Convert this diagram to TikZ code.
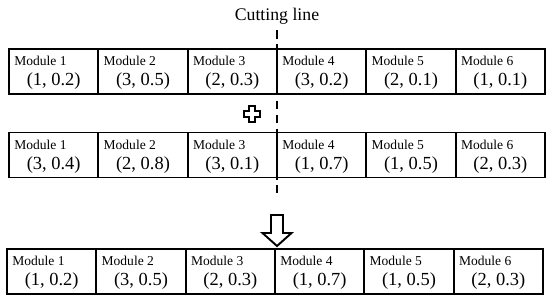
\documentclass[tikz,border=0pt]{standalone}
\usepackage{fontspec}
\setmainfont{Liberation Serif}
\usetikzlibrary{arrows}

\tikzset{
  cell/.style={draw, line width=1.1pt, minimum width=1.787cm, minimum height=0.9cm, inner sep=0pt},
  mod/.style={anchor=north west, inner xsep=3.4pt, inner ysep=4.6pt, font=\fontsize{7.7}{9}\selectfont},
  val/.style={yshift=-0.2cm, font=\fontsize{10.5}{12}\selectfont},
  cutline/.style={dashed, dash pattern=on 5pt off 3pt, line width=1.1pt},
  bigsign/.style={draw, line width=1.1pt, fill=white}
}

\begin{document}
\begin{tikzpicture}[scale=1]
\useasboundingbox (0,0) rectangle (11,-6.08);

% parent 1
\node[cell] (A1) at (1.074,-1.43) {};
\node[cell] (A2) at (2.860,-1.43) {};
\node[cell] (A3) at (4.647,-1.43) {};
\node[cell] (A4) at (6.434,-1.43) {};
\node[cell] (A5) at (8.220,-1.43) {};
\node[cell] (A6) at (10.007,-1.43) {};

\node[mod] (A1t) at (A1.north west) {Module 1};
\node[mod] (A2t) at (A2.north west) {Module 2};
\node[mod] (A3t) at (A3.north west) {Module 3};
\node[mod] (A4t) at (A4.north west) {Module 4};
\node[mod] (A5t) at (A5.north west) {Module 5};
\node[mod] (A6t) at (A6.north west) {Module 6};

\node[val] (A1v) at (A1) {(1, 0.2)};
\node[val] (A2v) at (A2) {(3, 0.5)};
\node[val] (A3v) at (A3) {(2, 0.3)};
\node[val] (A4v) at (A4) {(3, 0.2)};
\node[val] (A5v) at (A5) {(2, 0.1)};
\node[val] (A6v) at (A6) {(1, 0.1)};

% parent 2
\node[cell] (B1) at (1.074,-3.10) {};
\node[cell] (B2) at (2.860,-3.10) {};
\node[cell] (B3) at (4.647,-3.10) {};
\node[cell] (B4) at (6.434,-3.10) {};
\node[cell] (B5) at (8.220,-3.10) {};
\node[cell] (B6) at (10.007,-3.10) {};

\node[mod] (B1t) at (B1.north west) {Module 1};
\node[mod] (B2t) at (B2.north west) {Module 2};
\node[mod] (B3t) at (B3.north west) {Module 3};
\node[mod] (B4t) at (B4.north west) {Module 4};
\node[mod] (B5t) at (B5.north west) {Module 5};
\node[mod] (B6t) at (B6.north west) {Module 6};

\node[val] (B1v) at (B1) {(3, 0.4)};
\node[val] (B2v) at (B2) {(2, 0.8)};
\node[val] (B3v) at (B3) {(3, 0.1)};
\node[val] (B4v) at (B4) {(1, 0.7)};
\node[val] (B5v) at (B5) {(1, 0.5)};
\node[val] (B6v) at (B6) {(2, 0.3)};

% child
\node[cell] (C1) at (1.034,-5.43) {};
\node[cell] (C2) at (2.820,-5.43) {};
\node[cell] (C3) at (4.607,-5.43) {};
\node[cell] (C4) at (6.394,-5.43) {};
\node[cell] (C5) at (8.180,-5.43) {};
\node[cell] (C6) at (9.967,-5.43) {};

\node[mod] (C1t) at (C1.north west) {Module 1};
\node[mod] (C2t) at (C2.north west) {Module 2};
\node[mod] (C3t) at (C3.north west) {Module 3};
\node[mod] (C4t) at (C4.north west) {Module 4};
\node[mod] (C5t) at (C5.north west) {Module 5};
\node[mod] (C6t) at (C6.north west) {Module 6};

\node[val] (C1v) at (C1) {(1, 0.2)};
\node[val] (C2v) at (C2) {(3, 0.5)};
\node[val] (C3v) at (C3) {(2, 0.3)};
\node[val] (C4v) at (C4) {(1, 0.7)};
\node[val] (C5v) at (C5) {(1, 0.5)};
\node[val] (C6v) at (C6) {(2, 0.3)};

% cutting line
\node[font=\fontsize{10.1}{12}\selectfont] (cut) at (5.54,-0.32) {Cutting line};
\coordinate (cutend) at (5.54,-3.86);
\draw[cutline] (cut.south) -- (cutend);

% plus sign
\coordinate (plus) at (5.04,-2.28);
\draw[bigsign, shift={(plus)}] (-0.06,0.16) -- (0.06,0.16) -- (0.06,0.06) -- (0.16,0.06)
  -- (0.16,-0.06) -- (0.06,-0.06) -- (0.06,-0.16) -- (-0.06,-0.16) -- (-0.06,-0.06)
  -- (-0.16,-0.06) -- (-0.16,0.06) -- (-0.06,0.06) -- cycle;

% down arrow
\coordinate (tip) at (5.54,-4.92);
\draw[bigsign, shift={(tip)}] (-0.12,0.62) -- (0.12,0.62) -- (0.12,0.26) -- (0.29,0.26)
  -- (0,0) -- (-0.29,0.26) -- (-0.12,0.26) -- cycle;
\end{tikzpicture}
\end{document}
